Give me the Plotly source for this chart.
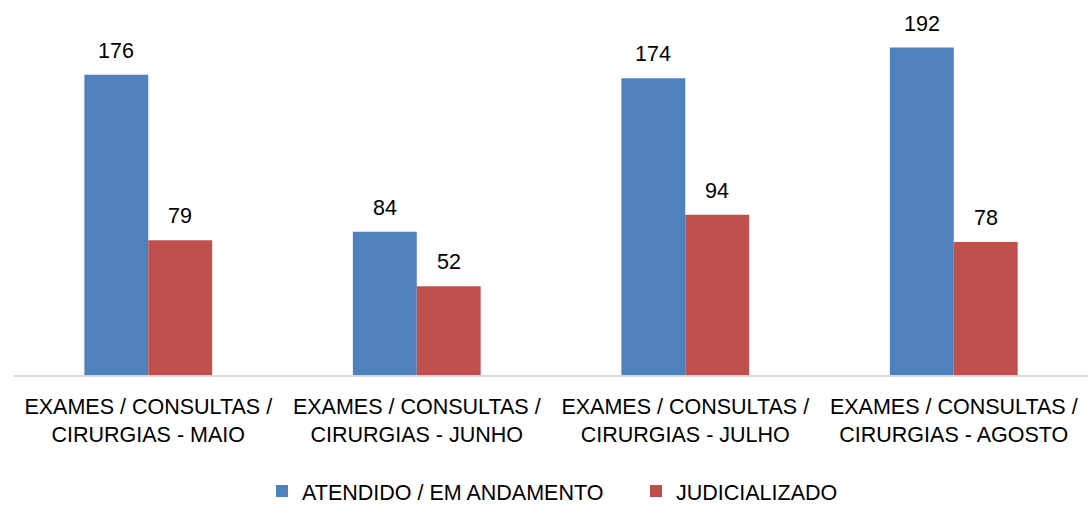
import plotly.graph_objects as go

categories = ["EXAMES / CONSULTAS /<br>CIRURGIAS - MAIO",
              "EXAMES / CONSULTAS /<br>CIRURGIAS - JUNHO",
              "EXAMES / CONSULTAS /<br>CIRURGIAS - JULHO",
              "EXAMES / CONSULTAS /<br>CIRURGIAS - AGOSTO"]
atendido = [176, 84, 174, 192]
judicializado = [79, 52, 94, 78]

FONT = "Liberation Sans, Arial, sans-serif"
FS = 21.5

fig = go.Figure()
fig.add_trace(go.Bar(x=categories, y=atendido, name="ATENDIDO / EM ANDAMENTO",
                     marker=dict(color="#4F81BD", line=dict(width=0))))
fig.add_trace(go.Bar(x=categories, y=judicializado, name="JUDICIALIZADO",
                     marker=dict(color="#C0504D", line=dict(width=0))))

# value labels above bars
for series, shift in ((atendido, -32), (judicializado, 32)):
    for cat, val in zip(categories, series):
        fig.add_annotation(x=cat, y=val, text=str(val), showarrow=False,
                           xshift=shift, yshift=10, yanchor="bottom",
                           font=dict(size=FS, color="#000000", family=FONT))

PLOT_H = 381
fig.update_layout(
    width=1088, height=512,
    margin=dict(l=14, r=0, t=0, b=512 - PLOT_H),
    plot_bgcolor="white", paper_bgcolor="white",
    barmode="group", bargap=0.524, bargroupgap=0,
    font=dict(family=FONT, size=FS, color="#000000"),
    showlegend=True,
    legend=dict(orientation="h", x=(262 - 14) / 1074, xanchor="left",
                y=-(499 - PLOT_H) / PLOT_H, yanchor="middle",
                font=dict(size=FS), itemwidth=30, entrywidth=329,
                traceorder="normal"),
    xaxis=dict(showline=True, linecolor="#D9D9D9", linewidth=2, ticks="",
               tickangle=0, automargin=False, tickfont=dict(size=FS),
               ticklabelstandoff=11),
    yaxis=dict(range=[0, PLOT_H * 176 / 305], visible=False, showgrid=False, automargin=False),
)

fig.write_html("out.html", config={"displayModeBar": False},
               post_script="document.body.style.margin='0';"
                           "document.documentElement.style.overflow='hidden';")
